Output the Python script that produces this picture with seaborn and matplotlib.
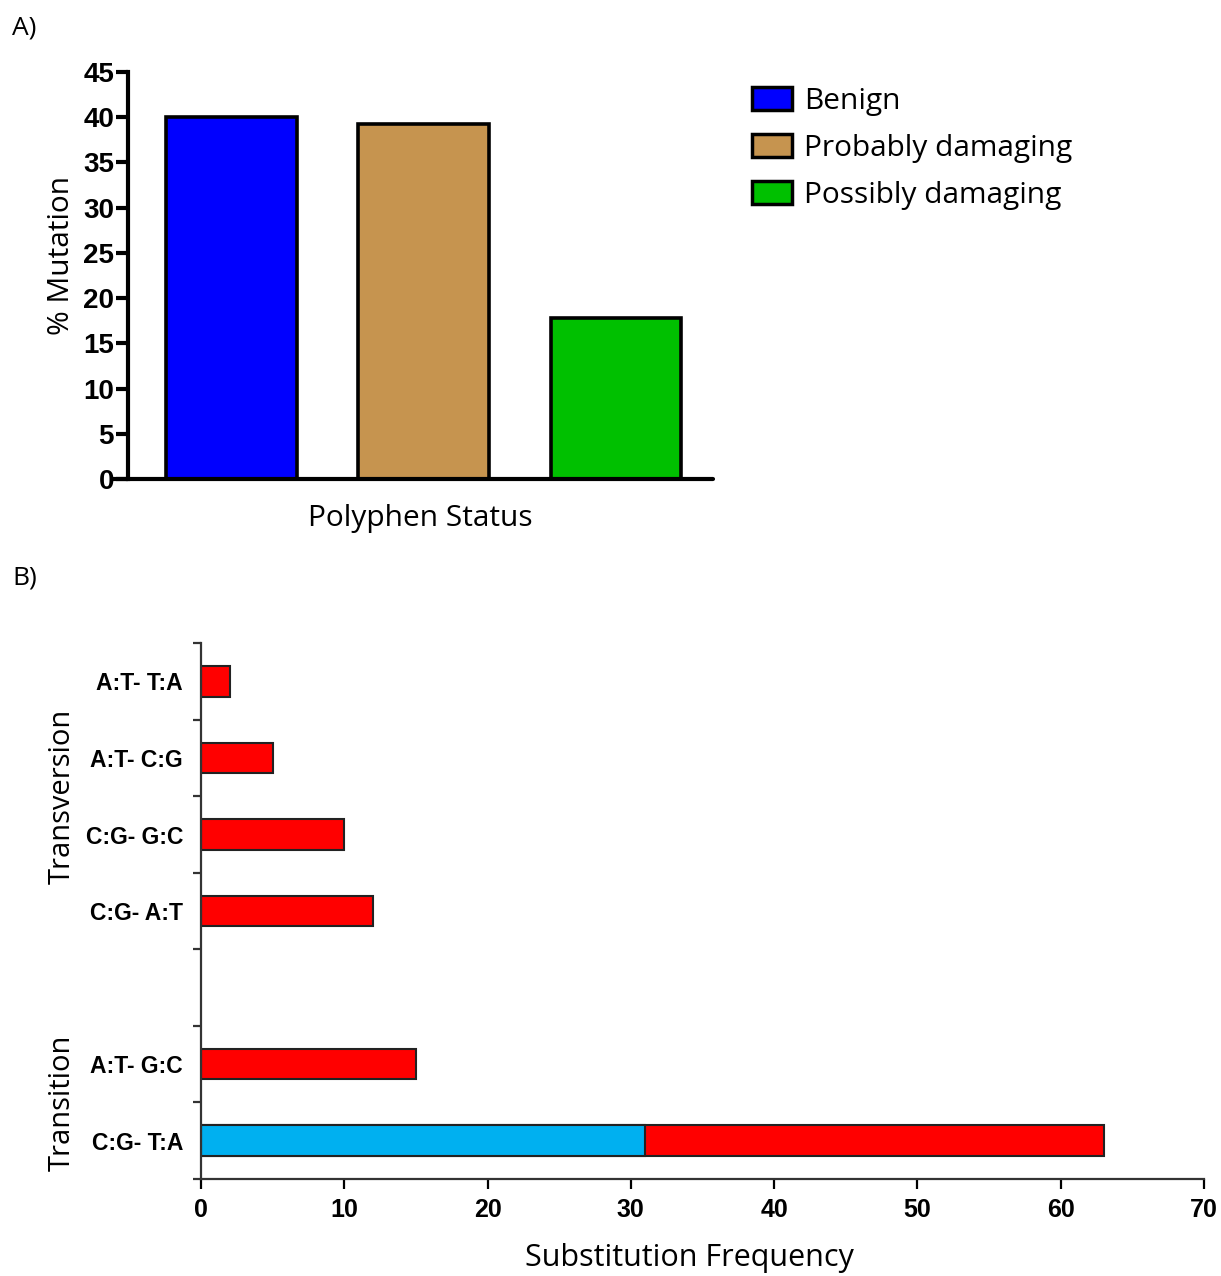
import matplotlib
matplotlib.use("Agg")
import matplotlib.pyplot as plt
from matplotlib.patches import Patch
from matplotlib.font_manager import FontProperties
import seaborn as sns
import pandas as pd

# ---- Panel A: PolyPhen prediction of mutations ----
polyphen_status = ["Benign", "Probably damaging", "Possibly damaging"]
pct_mutation = [40.0, 39.2, 17.8]
polyphen_colors = ["#0000FF", "#C6944F", "#00C000"]

# ---- Panel B: substitution spectrum ----
# an empty slot separates the transversion and transition groups
substitution_types = ["A:T- T:A", "A:T- C:G", "C:G- G:C", "C:G- A:T", "",
                      "A:T- G:C", "C:G- T:A"]
substitution_freq = [2, 5, 10, 12, None, 15, 63]
split_freq = [None, None, None, None, None, None, 31]
group_labels = ["Transversion", "Transition"]

sns.set_theme(style="ticks")
plt.rcParams["font.family"] = ["Open Sans", "DejaVu Sans"]
plt.rcParams["text.color"] = "black"
plt.rcParams["axes.labelcolor"] = "black"

narrow_family = ["Liberation Sans Narrow", "Liberation Sans", "DejaVu Sans"]

fig = plt.figure(figsize=(12.21, 12.76), dpi=100)

# ---------------- Panel A ----------------
axA = fig.add_axes([0.1048, 0.6246, 0.4791, 0.319])
dfA = pd.DataFrame({"status": polyphen_status, "pct": pct_mutation})
sns.barplot(data=dfA, x="status", y="pct", hue="status", order=polyphen_status,
            palette=polyphen_colors, width=0.68, edgecolor="black",
            linewidth=2.6, legend=False, ax=axA, saturation=1)
axA.set_xlim(-0.54, 2.505)
axA.set_ylim(0, 45)
axA.set_yticks(range(0, 46, 5))
axA.set_xticks([])
axA.set_xlabel("Polyphen Status", fontsize=21.5, labelpad=18)
axA.set_ylabel("% Mutation", fontsize=21.5, va="center")
axA.yaxis.set_label_coords(-0.113, 0.55)
for lab in axA.get_yticklabels():
    lab.set_fontproperties(FontProperties(family=narrow_family, weight="bold", size=20))
axA.tick_params(axis="y", direction="out", length=9, width=3, pad=1, colors="black")
for s in ("right", "top"):
    axA.spines[s].set_visible(False)
for s in ("left", "bottom"):
    axA.spines[s].set_linewidth(3)
    axA.spines[s].set_color("black")
axA.spines["bottom"].set_bounds(-0.62, 2.505)
axA.spines["bottom"].set_capstyle("round")

handles = [Patch(facecolor=c, edgecolor="black", linewidth=2.5) for c in polyphen_colors]
fig.legend(handles, polyphen_status, loc="upper left",
           bbox_to_anchor=(752 / 1221, 1 - 87 / 1276), frameon=False,
           fontsize=21.5, handlelength=1.35, handleheight=0.8,
           handletextpad=0.4, labelspacing=0.6, borderpad=0, borderaxespad=0)

# ---------------- Panel B ----------------
axB = fig.add_axes([0.1646, 0.076, 0.8215, 0.42])
dfB = pd.DataFrame({"type": substitution_types, "freq": substitution_freq,
                    "split": split_freq})
sns.barplot(data=dfB.dropna(subset=["freq"]), y="type", x="freq",
            order=substitution_types, orient="h", color="#FF0000", saturation=1,
            width=0.4, edgecolor="#222222", linewidth=1.5, ax=axB)
sns.barplot(data=dfB.dropna(subset=["split"]), y="type", x="split",
            order=substitution_types, orient="h", color="#00B0F0", saturation=1,
            width=0.4, edgecolor="#222222", linewidth=1.5, ax=axB)
axB.set_xlim(0, 70)
axB.set_ylim(6.5, -0.5)
axB.set_xticks(range(0, 71, 10))
axB.set_yticks(range(len(substitution_types)))
axB.set_yticklabels(substitution_types, fontsize=16.5, fontweight="bold",
                    family=["Liberation Sans", "DejaVu Sans"])
axB.set_yticks([i - 0.5 for i in range(len(substitution_types) + 1)], minor=True)
axB.tick_params(axis="y", which="major", length=0, pad=13, colors="black")
axB.tick_params(axis="y", which="minor", length=6, width=1.6, color="#333333")
axB.tick_params(axis="x", length=7, width=1.6, pad=7, colors="black")
for lab in axB.get_xticklabels():
    lab.set_fontproperties(FontProperties(family=narrow_family, weight="bold", size=18))
axB.set_xlabel("Substitution Frequency", fontsize=22, va="center")
axB.xaxis.set_label_coords(0.487, -0.147)
axB.set_ylabel("")
for s in ("top", "right"):
    axB.spines[s].set_visible(False)
for s in ("left", "bottom"):
    axB.spines[s].set_linewidth(1.6)
    axB.spines[s].set_color("#333333")

# group labels along the left side
axB.text(-0.138, 1.5, group_labels[0], transform=axB.get_yaxis_transform(),
         rotation=90, ha="center", va="center", fontsize=21)
axB.text(-0.138, 5.5, group_labels[1], transform=axB.get_yaxis_transform(),
         rotation=90, ha="center", va="center", fontsize=21)

# panel letters
fig.text(12 / 1221, 1 - 28 / 1276, "A)", fontsize=19, va="center", ha="left")
fig.text(12 / 1221, 1 - 578 / 1276, "B)", fontsize=19, va="center", ha="left")

fig.savefig("out.png", dpi=100, facecolor="white")
